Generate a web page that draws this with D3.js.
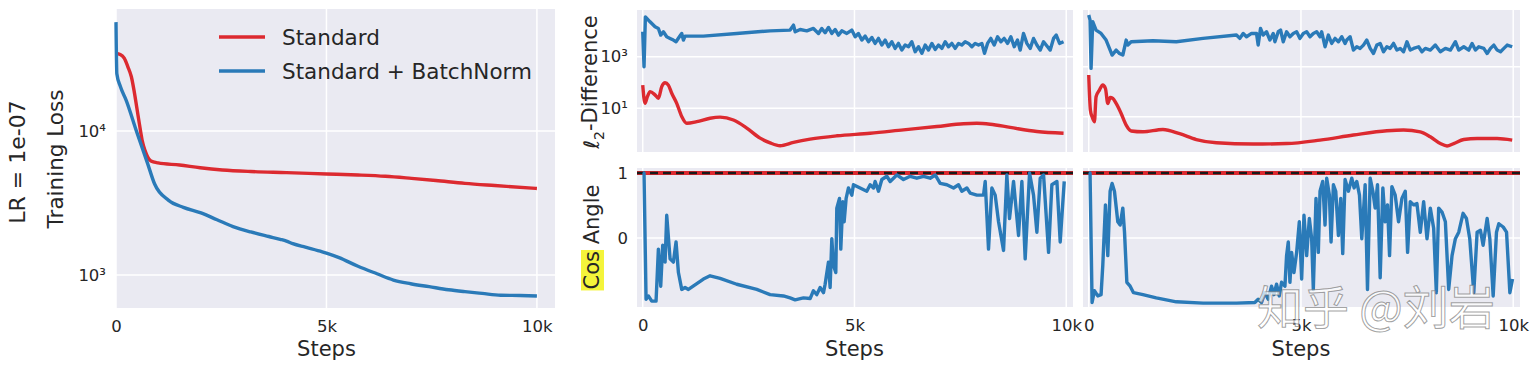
<!DOCTYPE html>
<html>
<head>
<meta charset="utf-8">
<script src="https://cdn.jsdelivr.net/npm/d3@7"></script>
<style>
  body { margin: 0; background: #fff; }
  text { font-family: "DejaVu Sans", sans-serif; fill: #262626; }
</style>
</head>
<body>
<div id="chart-area"></div>
<script>
// ---- data ----
const stepTicks = [0, 5000, 10000]

// training loss (left)
const lossStdSteps = [0, 100, 195, 280, 365, 430, 490, 560, 620, 690, 750, 830, 1000, 1510, 2000, 2525, 3200, 4050, 5000, 5750, 6400, 7020, 7600, 8290, 9000, 10000]
const lossStdValues = [34600, 34000, 32000, 28000, 23800, 19000, 14800, 11000, 8650, 7300, 6630, 6190, 6000, 5800, 5550, 5360, 5230, 5140, 5030, 4950, 4850, 4690, 4530, 4330, 4180, 3990]
const lossBnSteps = [0, 20, 100, 240, 490, 750, 915, 1250, 1600, 2020, 2400, 2780, 3200, 3630, 3900, 4050, 4200, 4500, 4900, 5000, 5300, 5750, 6200, 6590, 7000, 7440, 7900, 8290, 8700, 9140, 9600, 10000]
const lossBnValues = [57000, 25000, 20500, 16400, 9900, 5960, 4300, 3300, 2950, 2700, 2420, 2170, 1990, 1850, 1770, 1720, 1650, 1560, 1450, 1420, 1320, 1150, 1020, 923, 870, 830, 790, 766, 745, 724, 720, 714]
const lossTicks = [1000, 10000]

// l2 difference, middle column
const l2MidStdSteps = [0, 55, 110, 173, 291, 370, 449, 528, 606, 685, 803, 921, 1039, 1276, 1590, 1827, 2142, 2457, 2772, 3008, 3244, 3559, 3953, 4583, 5370, 6157, 6945, 7575, 7890, 8205, 8677, 9307, 9937]
const l2MidStdValues = [79, 15.5, 28, 44, 33, 24.5, 69, 98, 79, 38, 15.5, 4.8, 2.6, 3.0, 4.1, 4.5, 3.5, 1.7, 0.69, 0.45, 0.35, 0.47, 0.63, 0.85, 1.07, 1.45, 1.95, 2.5, 2.6, 2.4, 1.8, 1.25, 1.07]
const l2MidBnSteps = [0, 31, 63, 173, 291, 370, 425, 488, 567, 646, 724, 787, 866, 921, 961, 1000, 1433, 2220, 3008, 3480, 3560, 3600, 3717, 3874, 4031, 4150, 4228, 4307, 4386, 4465, 4543, 4622, 4701, 4819, 4937, 5016, 5094, 5173, 5252, 5331, 5409, 5488, 5567, 5646, 5724, 5803, 5882, 5961, 6039, 6118, 6197, 6276, 6354, 6433, 6512, 6591, 6669, 6748, 6827, 6906, 6984, 7063, 7142, 7220, 7299, 7378, 7457, 7535, 7614, 7693, 7772, 7850, 7929, 8008, 8071, 8142, 8220, 8299, 8378, 8457, 8535, 8614, 8693, 8772, 8850, 8913, 8992, 9071, 9150, 9228, 9307, 9386, 9465, 9559, 9622, 9701, 9764, 9843, 9937]
const l2MidBnValues = [9290, 410, 35300, 22600, 14500, 12500, 6900, 9290, 5940, 5130,
  4420, 3810, 5940, 8000, 4420, 6310, 6310, 8000, 10100, 10800,
  16800, 9290, 11400, 10100, 12500, 8000, 12500, 8500, 13700, 8000,
  11400, 6900, 10100, 8000, 10800, 5940, 8000, 4420, 6310, 3810,
  5600, 3280, 5130, 2830, 4420, 2440, 3810, 2100, 3280, 1810,
  2830, 2440, 3810, 1560, 2440, 1350, 2830, 1810, 3280, 1920,
  2830, 2100, 3810, 2440, 3280, 2100, 3280, 2830, 3810, 3280,
  2440, 3280, 2830, 3280, 1350, 3280, 5130, 2830, 5940, 3810,
  5130, 3280, 5940, 2440, 4420, 1810, 8000, 3280, 2100, 5130,
  2830, 1810, 3810, 2440, 1810, 5130, 6900, 3280, 3810]

// l2 difference, right column
const l2RightStdSteps = [0, 39, 79, 134, 173, 252, 331, 394, 449, 504, 567, 646, 764, 882, 1000, 1276, 1748, 2142, 2535, 3008, 3874, 4661, 5449, 6236, 7024, 7417, 7811, 8047, 8283, 8441, 8598, 8835, 9150, 9622, 9976]
const l2RightStdValues = [467, 18.6, 10, 6.3, 63, 117, 186, 135, 34, 59, 54, 34, 13.5, 4.6, 2.7, 2.5, 3.1, 2.1, 1.23, 0.91, 0.81, 0.85, 1.17, 1.86, 2.75, 2.95, 2.5, 1.58, 0.85, 0.68, 0.85, 1.23, 1.35, 1.35, 1.17]
const l2RightBnSteps = [0, 31, 55, 94, 173, 291, 409, 488, 551, 646, 724, 803, 882, 921, 1000, 1512, 2063, 2693, 3480, 3559, 3638, 3717, 3835, 3953, 3992, 4047, 4110, 4189, 4268, 4346, 4386, 4465, 4520, 4583, 4661, 4740, 4819, 4898, 4976, 5055, 5134, 5213, 5291, 5370, 5449, 5488, 5567, 5646, 5724, 5803, 5882, 5961, 6039, 6079, 6157, 6236, 6315, 6394, 6472, 6551, 6630, 6709, 6787, 6866, 6945, 7024, 7102, 7181, 7260, 7339, 7417, 7496, 7575, 7654, 7772, 7850, 7929, 8047, 8165, 8283, 8402, 8520, 8638, 8717, 8835, 8953, 9031, 9110, 9189, 9307, 9386, 9465, 9543, 9622, 9701, 9780, 9858, 9976]
const l2RightBnValues = [117000, 73600, 858, 63100, 29300, 21500, 11700, 5410, 2930, 4640,
  3410, 2930, 11700, 7360, 10000, 11000, 10000, 13600, 18500, 13600,
  21500, 15800, 21500, 21500, 7360, 34100, 18500, 25100, 11700, 21500,
  10000, 25100, 29300, 10000, 25100, 15800, 21500, 25100, 13600, 21500,
  25100, 15800, 21500, 25100, 15800, 25100, 6310, 18500, 8580, 13600,
  10000, 15800, 8580, 11700, 15800, 4640, 6310, 5410, 7360, 11700,
  5410, 3410, 7360, 8580, 3980, 6310, 5410, 8580, 4640, 5410,
  3980, 10000, 4640, 5410, 6310, 3980, 5410, 4640, 7360, 3980,
  5410, 4640, 10000, 4640, 6310, 4640, 8580, 4640, 6310, 5410,
  3410, 5410, 7360, 4640, 3980, 5410, 7360, 6310]
const l2Ticks = [10, 1000]

// cos angle
const cosStdValue = 1
const cosMidBnSteps = [0, 31, 79, 134, 213, 315, 370, 425, 472, 528, 567, 646, 724, 787, 843, 921, 1000, 1079, 1433, 1591,
  1827, 2220, 2693, 3008, 3323, 3480, 3598, 3795, 3953, 4031, 4110, 4189, 4268, 4307, 4386, 4425, 4465, 4504, 4559, 4583,
  4646, 4677, 4724, 4756, 4803, 4858, 4937, 4976, 5134, 5291, 5370, 5449, 5488, 5567, 5646, 5764, 5843, 6000, 6157, 6315,
  6472, 6630, 6787, 6906, 7024, 7181, 7339, 7457, 7535, 7654, 7732, 7890, 8047, 8087, 8165, 8244, 8323, 8402, 8520, 8598,
  8661, 8756, 8874, 8953, 9031, 9134, 9228, 9307, 9386, 9465, 9583, 9661, 9780, 9858, 9953]
const cosMidBnValues = [1.0, 1.0, -0.94, -0.89, -0.97, -0.97, -0.17, -0.74, -0.11, -0.37, 0.35, -0.32, -0.37, -0.06, -0.53, -0.79, -0.76, -0.79, -0.63, -0.58,
  -0.62, -0.71, -0.79, -0.87, -0.89, -0.92, -0.95, -0.92, -0.93, -0.81, -0.87, -0.76, -0.84, -0.71, -0.37, -0.76, -0.01, -0.42, -0.53, 0.46,
  0.61, -0.17, 0.56, 0.25, 0.61, 0.77, 0.66, 0.82, 0.77, 0.72, 0.82, 0.77, 0.87, 0.72, 0.90, 0.95, 0.87, 0.97, 0.90, 0.95,
  0.92, 0.95, 0.92, 0.97, 0.84, 0.82, 0.77, 0.82, 0.72, 0.77, 0.69, 0.66, 0.66, 0.87, -0.17, 0.77, 0.66, 0.25, -0.19, 0.97,
  0.30, 0.87, 0.04, 0.87, -0.32, 1.0, 0.66, 0.09, 0.92, 0.97, -0.22, 0.82, 0.87, -0.06, 0.87]
const cosRightBnSteps = [0, 31, 79, 134, 213, 291, 331, 394, 449, 504, 551, 606, 685, 740, 803, 843, 898, 976, 1055, 1276,
  1591, 2063, 2693, 3480, 3913, 3992, 4071, 4150, 4228, 4307, 4362, 4425, 4488, 4543, 4622, 4661, 4701, 4740, 4780, 4835,
  4898, 4961, 5016, 5071, 5134, 5197, 5252, 5291, 5354, 5409, 5449, 5512, 5567, 5606, 5669, 5709, 5764, 5819, 5882, 5937,
  5984, 6039, 6118, 6197, 6252, 6315, 6378, 6433, 6512, 6567, 6630, 6693, 6748, 6803, 6866, 6929, 6984, 7039, 7087, 7142,
  7220, 7299, 7378, 7457, 7512, 7575, 7654, 7732, 7811, 7890, 7969, 8047, 8126, 8189, 8244, 8323, 8402, 8480, 8559, 8638,
  8717, 8819, 8898, 8976, 9071, 9150, 9228, 9291, 9386, 9449, 9528, 9606, 9661, 9764, 9843, 9921, 9984]
const cosRightBnValues = [1.0, 1.0, -0.99, -0.81, -0.89, -0.87, -0.42, 0.51, -0.27, 0.72, 0.84, 0.72, 0.25, 0.20, 0.46, 0.09, -0.68, -0.74, -0.84, -0.87,
  -0.92, -0.98, -1.0, -1.0, -0.99, -0.94, -0.99, -0.84, -0.94, -0.74, -0.87, -0.71, -0.89, -0.68, -0.74, -0.27, -0.06, -0.68, -0.22, -0.53,
  -0.22, 0.25, -0.63, 0.35, -0.27, 0.30, -0.01, -0.79, 0.61, -0.22, 0.72, 0.87, 0.20, 0.92, 0.66, -0.06, 0.82, 0.72, 0.04, 0.61,
  -0.24, 0.90, 0.72, 0.92, 0.77, 0.87, 0.66, -0.01, 0.82, -0.79, 0.92, 0.72, 0.46, 0.82, -0.61, 0.77, 0.25, 0.51, -0.27, 0.79,
  0.66, 0.25, 0.61, 0.72, -0.22, 0.56, 0.51, 0.53, 0.09, 0.56, -0.01, 0.46, 0.15, -0.84, 0.46, 0.40, 0.25, -0.79, -0.27, -0.01,
  0.09, 0.38, 0.30, -0.01, -0.84, 0.09, 0.12, -0.11, 0.30, -0.01, -0.89, 0.09, 0.22, 0.17, 0.09, -0.84, -0.63]
const cosTicks = [0, 1]

const legendLabels = ["Standard", "Standard + BatchNorm"]

// ---- styling ----
const RED = "#dc2a30"
const BLUE = "#2a7ab8"
const BG = "#eaeaf2"
const LW = 3.4
const SUP = { "0": "⁰", "1": "¹", "2": "²", "3": "³", "4": "⁴", "5": "⁵" }
const stepFormat = d => d === 0 ? "0" : (d / 1000) + "k"
const powFormat = d => "10" + SUP[Math.round(Math.log10(d))]

const svg = d3.select("#chart-area").append("svg")
    .attr("width", 1538)
    .attr("height", 372)

function makePanel(p) {
    const g = svg.append("g")
    const x = d3.scaleLinear().domain(p.xDomain).range([p.left, p.right])
    const y = (p.log ? d3.scaleLog() : d3.scaleLinear()).domain(p.yDomain).range([p.bottom, p.top])

    g.append("rect")
        .attr("x", p.left).attr("y", p.top)
        .attr("width", p.right - p.left).attr("height", p.bottom - p.top)
        .attr("fill", BG)

    // grid
    g.selectAll(".vgrid").data(stepTicks).join("line")
        .attr("class", "vgrid")
        .attr("x1", d => x(d)).attr("x2", d => x(d))
        .attr("y1", p.top).attr("y2", p.bottom)
        .attr("stroke", "#fff").attr("stroke-width", 1.5)
    g.selectAll(".hgrid").data(p.yTicks).join("line")
        .attr("class", "hgrid")
        .attr("x1", p.left).attr("x2", p.right)
        .attr("y1", d => y(d)).attr("y2", d => y(d))
        .attr("stroke", "#fff").attr("stroke-width", 1.5)

    // axes
    if (p.xLabels) {
        const xa = g.append("g")
            .attr("transform", `translate(0, ${p.bottom})`)
            .call(d3.axisBottom(x).tickValues(stepTicks).tickFormat(stepFormat).tickSize(0).tickPadding(12))
        xa.select(".domain").remove()
        xa.attr("font-size", 16.5).attr("font-family", "DejaVu Sans")
        g.append("text")
            .attr("x", x(5000)).attr("y", 356)
            .attr("text-anchor", "middle")
            .attr("font-size", 21)
            .text("Steps")
    }
    if (p.yLabels) {
        const ya = g.append("g")
            .attr("transform", `translate(${p.left}, 0)`)
            .call(d3.axisLeft(y).tickValues(p.yTicks).tickFormat(p.yFormat).tickSize(0).tickPadding(p.yPad))
        ya.select(".domain").remove()
        ya.attr("font-size", 16.5).attr("font-family", "DejaVu Sans")
    }
    return { g, x, y }
}

function drawLine(panel, steps, values, color, smooth) {
    const line = d3.line()
        .x(d => panel.x(d[0]))
        .y(d => panel.y(d[1]))
        .curve(smooth ? d3.curveMonotoneX : d3.curveLinear)
    panel.g.append("path")
        .attr("d", line(d3.zip(steps, values)))
        .attr("fill", "none")
        .attr("stroke", color)
        .attr("stroke-width", LW)
        .attr("stroke-linejoin", "round")
}

function rotLabel(x, y, size) {
    return svg.append("text")
        .attr("transform", `translate(${x}, ${y}) rotate(-90)`)
        .attr("text-anchor", "middle")
        .attr("font-size", size)
}

// ---- left: training loss ----
const loss = makePanel({
    left: 116, right: 555, top: 9, bottom: 308,
    xDomain: [0, 10430], log: true, yDomain: [590, 70300],
    yTicks: lossTicks, yFormat: powFormat, yPad: 10,
    xLabels: true, yLabels: true
})
drawLine(loss, lossStdSteps, lossStdValues, RED, true)
drawLine(loss, lossBnSteps, lossBnValues, BLUE, true)

// legend
const legend = svg.append("g")
legend.selectAll("line").data(legendLabels).join("line")
    .attr("x1", 219).attr("x2", 265)
    .attr("y1", (d, i) => 37 + i * 34).attr("y2", (d, i) => 37 + i * 34)
    .attr("stroke", (d, i) => i === 0 ? RED : BLUE)
    .attr("stroke-width", LW)
legend.selectAll("text").data(legendLabels).join("text")
    .attr("x", 282).attr("y", (d, i) => 45 + i * 34)
    .attr("font-size", 21.5)
    .text(d => d)

rotLabel(25, 162, 22).text("LR = 1e-07")
rotLabel(63, 159, 21.5).text("Training Loss")

// ---- l2 difference ----
const l2Mid = makePanel({
    left: 637, right: 1073, top: 10, bottom: 152,
    xDomain: [-135, 10160], log: true, yDomain: [0.2, 65000],
    yTicks: l2Ticks, yFormat: powFormat, yPad: 9,
    xLabels: false, yLabels: true
})
drawLine(l2Mid, l2MidStdSteps, l2MidStdValues, RED, true)
drawLine(l2Mid, l2MidBnSteps, l2MidBnValues, BLUE)

const l2Right = makePanel({
    left: 1083, right: 1520, top: 10, bottom: 152,
    xDomain: [-135, 10160], log: true, yDomain: [0.39, 186000],
    yTicks: l2Ticks, xLabels: false, yLabels: false
})
drawLine(l2Right, l2RightStdSteps, l2RightStdValues, RED, true)
drawLine(l2Right, l2RightBnSteps, l2RightBnValues, BLUE)

const l2Label = rotLabel(599, 82, 21)
l2Label.append("tspan").text("ℓ")
l2Label.append("tspan").attr("font-size", 14).attr("dy", "0.35em").text("2")
l2Label.append("tspan").attr("dy", "-0.35em").text("-Difference")

// ---- cos angle ----
const cosMid = makePanel({
    left: 637, right: 1073, top: 168, bottom: 307,
    xDomain: [-135, 10160], log: false, yDomain: [-1.06, 1.077],
    yTicks: cosTicks, yFormat: d3.format("d"), yPad: 9,
    xLabels: true, yLabels: true
})
const cosRight = makePanel({
    left: 1083, right: 1520, top: 168, bottom: 307,
    xDomain: [-135, 10160], log: false, yDomain: [-1.06, 1.077],
    yTicks: cosTicks, xLabels: true, yLabels: false
})
for (const [panel, steps, values] of [[cosMid, cosMidBnSteps, cosMidBnValues], [cosRight, cosRightBnSteps, cosRightBnValues]]) {
    // Standard stays at cos = 1: red line with a black dashed line over it
    const [x0, x1] = panel.x.range()
    panel.g.append("line")
        .attr("x1", x0).attr("x2", x1)
        .attr("y1", panel.y(cosStdValue)).attr("y2", panel.y(cosStdValue))
        .attr("stroke", RED).attr("stroke-width", 4.2)
    panel.g.append("line")
        .attr("x1", x0).attr("x2", x1)
        .attr("y1", panel.y(cosStdValue)).attr("y2", panel.y(cosStdValue))
        .attr("stroke", "#1a1a1a").attr("stroke-width", 2.3)
        .attr("stroke-dasharray", "8,5")
    drawLine(panel, steps, values, BLUE)
}

// y label with the highlighted "Cos"
const cosG = svg.append("g").attr("transform", "translate(599, 237) rotate(-90)")
const cosText = cosG.append("text").attr("text-anchor", "middle").attr("font-size", 21)
const cosWord = cosText.append("tspan").text("Cos")
cosText.append("tspan").text(" Angle")
const bb = cosWord.node().getBBox()
cosG.insert("rect", "text")
    .attr("x", bb.x - 1).attr("y", bb.y + 1)
    .attr("width", bb.width + 2).attr("height", bb.height - 1)
    .attr("fill", "#f4f43a")

// watermark
svg.append("text")
    .attr("x", 1257).attr("y", 324)
    .attr("font-size", 46)
    .style("font-family", "'Noto Sans CJK SC', sans-serif")
    .style("fill", "rgba(255,255,255,0.72)")
    .style("stroke", "rgba(110,110,110,0.65)")
    .style("stroke-width", 1)
    .text("知乎 @刘岩")
</script>
</body>
</html>
